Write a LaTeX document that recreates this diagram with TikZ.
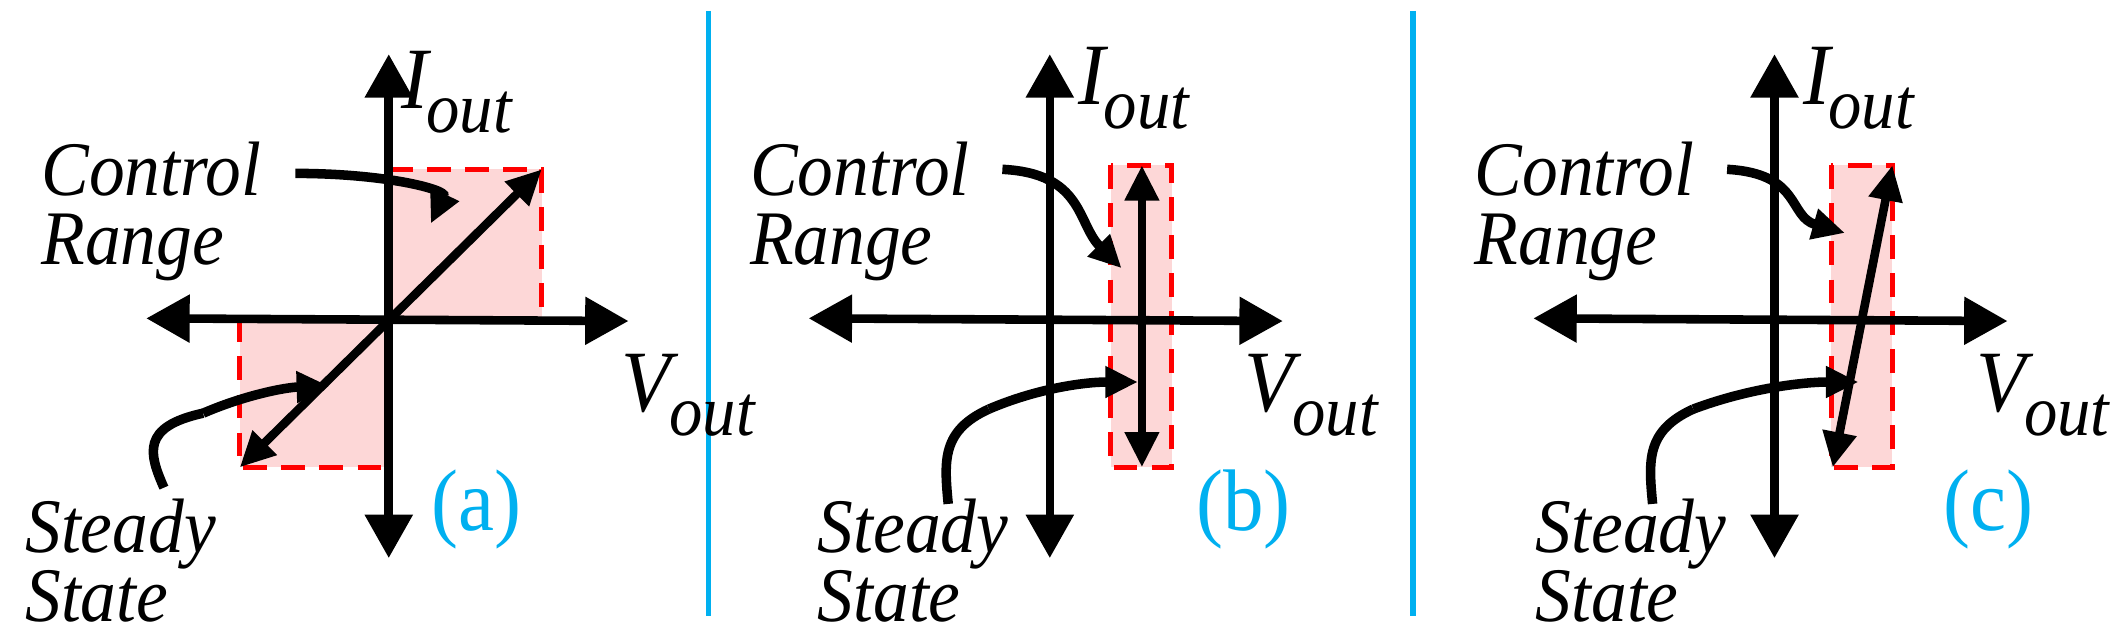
\documentclass[tikz,border=0pt]{standalone}
\usepackage{fontspec}
\setmainfont{Liberation Serif}
\usetikzlibrary{arrows.meta}
\definecolor{cy}{RGB}{0,176,240}
\definecolor{pk}{RGB}{253,215,215}
\newcommand{\sublab}[2]{#1\kern-0.02em\raisebox{-0.6ex}{\fontsize{14}{14}\selectfont #2}}
\begin{document}
\begin{tikzpicture}[x=0.01cm,y=-0.01cm,
 ax/.style={line width=1.8pt,{Triangle[length=0.32cm,width=0.34cm]}-{Triangle[length=0.32cm,width=0.34cm]}},
 dg/.style={line width=1.8pt,{Triangle[length=0.26cm,width=0.24cm]}-{Triangle[length=0.26cm,width=0.24cm]}},
 pt/.style={line width=2pt,-{Triangle[length=0.24cm,width=0.22cm]}},
 rgf/.style={fill=pk},
 rg/.style={draw=red,line width=1pt,dash pattern=on 5pt off 3pt},
 lb/.style={font=\fontsize{15}{13.5}\selectfont\itshape,align=left,inner sep=0pt,yscale=1.08,anchor=west},
 axl/.style={font=\fontsize{17}{17}\selectfont\itshape,inner sep=0pt,yscale=1.08},
 tag/.style={text=cy,font=\fontsize{17}{17}\selectfont,inner sep=0pt,yscale=1.08}]
\useasboundingbox (0,0) rectangle (1568,463);
\coordinate (s1a) at (523,8); \coordinate (s1b) at (523,455);
\coordinate (s2a) at (1043,8); \coordinate (s2b) at (1043,455);
\draw[cy,line width=1.2pt] (s1a) -- (s1b);
\draw[cy,line width=1.2pt] (s2a) -- (s2b);
% ===== (a)
\fill[rgf] (287,125) rectangle (400,235);
\fill[rgf] (177,235) rectangle (287,345);
\draw[rg] (287,125) -- (400,125) -- (400,235);
\draw[rg] (177,235) -- (177,345) -- (287,345);
\coordinate (aT) at (287,40); \coordinate (aB) at (287,412);
\coordinate (aL) at (108,235); \coordinate (aR) at (464,237);
\draw[ax] (aT) -- (aB);
\draw[ax] (aL) -- (aR);
\coordinate (aD1) at (177,345); \coordinate (aD2) at (400,125);
\draw[dg] (aD1) -- (aD2);
\node[axl] (aI) at (337,68) {\sublab{I}{out}};
\node[axl] (aV) at (508,292) {\sublab{V}{out}};
\node[lb] (aC) at (30,156) {Control\\Range};
\node[lb] (aS) at (18,414) {Steady\\State};
\node[tag] (at) at (352,376) {(a)};
\coordinate (aCs) at (218,128); \coordinate (aCe) at (318,165);
\coordinate (aSs) at (121,360); \coordinate (aSm) at (150,305); \coordinate (aSe) at (243,285);
\draw[pt] (aCs) .. controls (285,128) and (330,140) .. (aCe);
\draw[line width=2pt] (aSs) .. controls (110,335) and (104,315) .. (aSm);
\draw[pt] (aSm) .. controls (180,292) and (210,286) .. (aSe);
% ===== (b)
\fill[rgf] (820,122) rectangle (865,345);
\draw[rg] (820,122) rectangle (865,345);
\coordinate (bT) at (775,40); \coordinate (bB) at (775,412);
\coordinate (bL) at (597,235); \coordinate (bR) at (947,237);
\draw[ax] (bT) -- (bB);
\draw[ax] (bL) -- (bR);
\coordinate (bD1) at (843,345); \coordinate (bD2) at (843,122);
\draw[dg] (bD1) -- (bD2);
\node[axl] (bI) at (837,65) {\sublab{I}{out}};
\node[axl] (bV) at (968,292) {\sublab{V}{out}};
\node[lb] (bC) at (553,156) {Control\\Range};
\node[lb] (bS) at (603,414) {Steady\\State};
\node[tag] (bt) at (918,376) {(b)};
\coordinate (bCs) at (740,125); \coordinate (bCe) at (828,198);
\coordinate (bSs) at (700,372); \coordinate (bSm) at (730,302); \coordinate (bSe) at (840,282);
\draw[pt] (bCs) .. controls (800,128) and (795,165) .. (bCe);
\draw[line width=2pt] (bSs) .. controls (697,340) and (695,318) .. (bSm);
\draw[pt] (bSm) .. controls (765,287) and (800,282) .. (bSe);
% ===== (c)
\fill[rgf] (1352,122) rectangle (1397,345);
\draw[rg] (1352,122) rectangle (1397,345);
\coordinate (cT) at (1310,40); \coordinate (cB) at (1310,412);
\coordinate (cL) at (1132,235); \coordinate (cR) at (1482,237);
\draw[ax] (cT) -- (cB);
\draw[ax] (cL) -- (cR);
\coordinate (cD1) at (1353,345); \coordinate (cD2) at (1397,122);
\draw[dg] (cD1) -- (cD2);
\node[axl] (cI) at (1372,65) {\sublab{I}{out}};
\node[axl] (cV) at (1508,292) {\sublab{V}{out}};
\node[lb] (cC) at (1088,156) {Control\\Range};
\node[lb] (cS) at (1133,414) {Steady\\State};
\node[tag] (ct) at (1468,376) {(c)};
\coordinate (cCs) at (1275,125); \coordinate (cCe) at (1362,172);
\coordinate (cSs) at (1220,372); \coordinate (cSm) at (1250,302); \coordinate (cSe) at (1372,282);
\draw[pt] (cCs) .. controls (1330,128) and (1320,160) .. (cCe);
\draw[line width=2pt] (cSs) .. controls (1217,340) and (1215,318) .. (cSm);
\draw[pt] (cSm) .. controls (1290,287) and (1330,282) .. (cSe);
\end{tikzpicture}
\end{document}
